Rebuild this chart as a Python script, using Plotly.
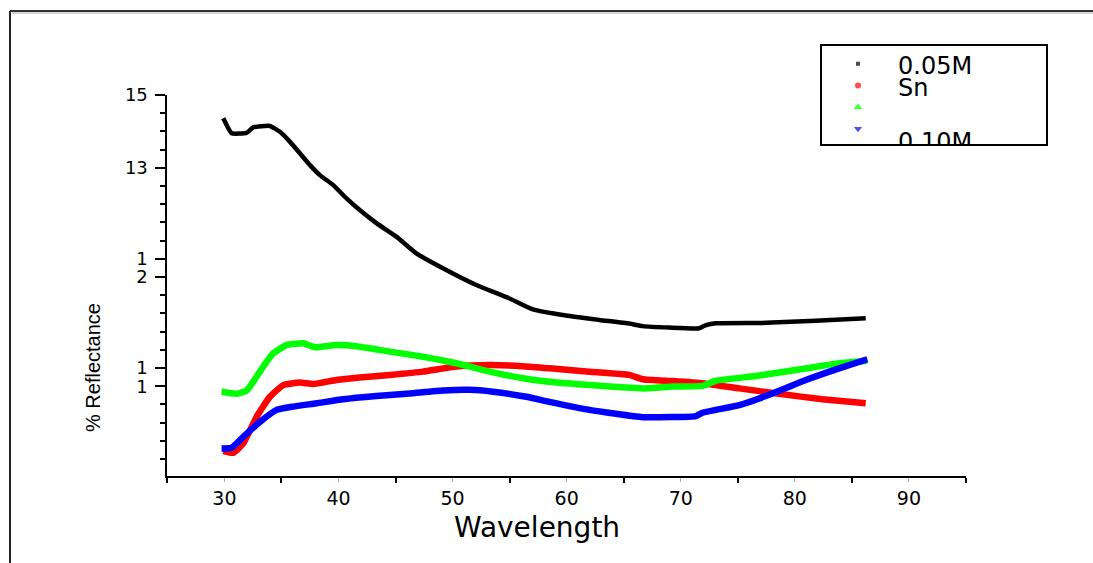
import plotly.graph_objects as go
import numpy as np

# ---------------- data ----------------
black_x = [29.9, 30.63, 31.94, 32.52, 33.98, 34.86, 35.73, 36.61, 37.48, 38.36, 39.52, 40.70,
           41.86, 43.32, 45.07, 46.82, 49.15, 52.07, 54.99, 57.03, 59.95, 62.87, 65.49, 66.66,
           68.99, 71.62, 72.21, 73.08, 77.46, 81.83, 86.21]
black_y = [14.36, 13.95, 13.96, 14.11, 14.15, 13.99, 13.72, 13.40, 13.08, 12.80, 12.53, 12.16,
           11.84, 11.48, 11.11, 10.65, 10.24, 9.78, 9.41, 9.11, 8.94, 8.82, 8.72, 8.65,
           8.61, 8.59, 8.68, 8.73, 8.74, 8.80, 8.87]

red_x = [29.9, 30.77, 31.65, 32.82, 33.98, 35.15, 36.61, 37.77, 39.82, 41.86, 44.49, 47.40,
         50.32, 53.24, 56.15, 58.49, 61.99, 65.49, 66.66, 69.28, 71.91, 75.12, 78.62, 82.41, 86.21]
red_y = [5.22, 5.17, 5.43, 6.16, 6.71, 7.03, 7.10, 7.06, 7.17, 7.24, 7.31, 7.40,
         7.54, 7.58, 7.55, 7.49, 7.40, 7.31, 7.19, 7.14, 7.08, 6.94, 6.79, 6.64, 6.53]

green_x = [29.75, 31.07, 31.94, 32.52, 33.40, 34.27, 35.44, 36.90, 37.92, 39.82, 41.57, 44.49,
           47.40, 50.32, 53.24, 56.15, 58.49, 61.99, 66.66, 69.28, 71.91, 73.08, 76.58, 80.37,
           83.87, 86.35]
green_y = [6.85, 6.79, 6.88, 7.12, 7.54, 7.90, 8.13, 8.18, 8.07, 8.13, 8.10, 7.95,
           7.81, 7.63, 7.40, 7.22, 7.12, 7.03, 6.94, 6.99, 7.01, 7.15, 7.28, 7.46,
           7.63, 7.70]

blue_x = [29.75, 30.63, 31.65, 33.11, 34.57, 36.02, 38.07, 40.40, 43.32, 46.24, 49.15, 51.49,
          53.53, 56.45, 58.49, 61.99, 66.66, 71.33, 71.91, 75.12, 78.04, 80.96, 83.87, 86.35]
blue_y = [5.29, 5.31, 5.61, 6.02, 6.35, 6.44, 6.53, 6.64, 6.73, 6.80, 6.88, 6.90,
          6.85, 6.71, 6.57, 6.35, 6.15, 6.18, 6.27, 6.48, 6.80, 7.17, 7.49, 7.74]

x_tick_vals = [30, 40, 50, 60, 70, 80, 90]
x_tick_text = ["30", "40", "50", "60", "70", "80", "90"]
y_tick_vals = [15, 13, 10.5, 10, 7.5, 7]
y_tick_text = ["15", "13", "1", "2", "1", "1"]

legend_labels = ["0.05M", "Sn", "", "0.10M"]
legend_colors = ["#000000", "#ff0000", "#00ff00", "#0000ff"]
legend_symbols = ["square", "circle", "triangle-up", "triangle-down"]

# ---------------- figure ----------------
W, H = 1093, 563
def px(x):
    return x / W
def py(y):
    return 1 - y / H

fig = go.Figure()

series = [(black_x, black_y, "#000000", 4.5),
          (red_x, red_y, "#ff0000", 6.5),
          (green_x, green_y, "#00ff00", 6.5),
          (blue_x, blue_y, "#0000ff", 6.5)]
for xs, ys, c, w in series:
    fig.add_trace(go.Scatter(x=xs, y=ys, mode="lines",
                             line=dict(color=c, width=w, shape="spline", smoothing=0.4),
                             showlegend=False, hoverinfo="skip", xaxis="x", yaxis="y"))

# custom legend box (second, hidden subplot so that text is clipped by the box)
mk_x = [36, 36, 36, 36]
mk_y = [18.3, 40, 61.7, 83.3]
mk_size = [4, 6, 8, 7]
fig.add_trace(go.Scatter(x=mk_x, y=mk_y, mode="markers",
                         marker=dict(color=legend_colors, symbol=legend_symbols, size=mk_size,
                                     line=dict(width=0)),
                         showlegend=False, hoverinfo="skip", xaxis="x2", yaxis="y2",
                         cliponaxis=True))
fig.add_trace(go.Scatter(x=[76, 76, 76, 76], y=[22.5, 44.5, 66, 98], mode="text",
                         text=legend_labels, textposition="middle right",
                         textfont=dict(family="DejaVu Sans", size=24, color="#000"),
                         showlegend=False, hoverinfo="skip", xaxis="x2", yaxis="y2",
                         cliponaxis=True))

fig.update_layout(
    width=W, height=H,
    margin=dict(l=0, r=0, t=0, b=0),
    paper_bgcolor="white", plot_bgcolor="white",
    showlegend=False,
    xaxis=dict(domain=[px(167.4), px(966)], range=[25, 95], anchor="y",
               showline=True, linecolor="#000", linewidth=2,
               showgrid=False, zeroline=False, automargin=False,
               tickmode="array", tickvals=x_tick_vals, ticktext=x_tick_text,
               ticks="outside", ticklen=4, tickwidth=1, tickcolor="#aaaaaa",
               tickfont=dict(family="DejaVu Sans", size=19, color="#000"),
               minor=dict(tickmode="array", tickvals=[25, 35, 45, 55, 65, 75, 85, 95],
                          ticks="outside", ticklen=5, tickwidth=2, tickcolor="#000",
                          showgrid=False)),
    yaxis=dict(domain=[py(476), py(95)], range=[4.533, 15], anchor="x",
               showline=True, linecolor="#000", linewidth=2,
               showgrid=False, zeroline=False, automargin=False,
               tickmode="array", tickvals=y_tick_vals, ticktext=y_tick_text,
               ticks="outside", ticklen=10, tickwidth=2, tickcolor="#000",
               ticklabelstandoff=4,
               tickfont=dict(family="DejaVu Sans", size=18, color="#000"),
               minor=dict(tickmode="array", tickvals=list(np.arange(5, 15.01, 0.5)),
                          ticks="outside", ticklen=5, tickwidth=2, tickcolor="#000",
                          showgrid=False)),
    xaxis2=dict(domain=[px(822), px(1046)], range=[0, 224], anchor="y2",
                showline=True, mirror=True, linecolor="#000", linewidth=2,
                showgrid=False, zeroline=False, showticklabels=False, ticks="",
                automargin=False, fixedrange=True),
    yaxis2=dict(domain=[py(144), py(45.5)], range=[98.5, 0], anchor="x2",
                showline=True, mirror=True, linecolor="#000", linewidth=2,
                showgrid=False, zeroline=False, showticklabels=False, ticks="",
                automargin=False, fixedrange=True),
    annotations=[
        dict(text="% Reflectance", xref="paper", yref="paper", x=px(93), y=py(368),
             textangle=-90, showarrow=False, xanchor="center", yanchor="middle",
             font=dict(family="Liberation Sans", size=20, color="#000")),
        dict(text="Wavelength", xref="paper", yref="paper", x=px(537), y=py(527),
             showarrow=False, xanchor="center", yanchor="middle",
             font=dict(family="DejaVu Sans", size=28, color="#000")),
    ],
    shapes=[
        dict(type="line", xref="paper", yref="paper", x0=px(10), x1=1, y0=py(11), y1=py(11),
             line=dict(color="#333333", width=2)),
        dict(type="line", xref="paper", yref="paper", x0=px(12), x1=1, y0=py(13), y1=py(13),
             line=dict(color="#aaaaaa", width=1)),
        dict(type="line", xref="paper", yref="paper", x0=px(10), x1=px(10), y0=0, y1=py(11),
             line=dict(color="#222222", width=2)),
    ],
)

fig.write_html("out.html",
               config={"displayModeBar": False},
               post_script="document.body.style.margin='0';"
                           "document.body.style.overflow='hidden';"
                           "document.documentElement.style.overflow='hidden';")
